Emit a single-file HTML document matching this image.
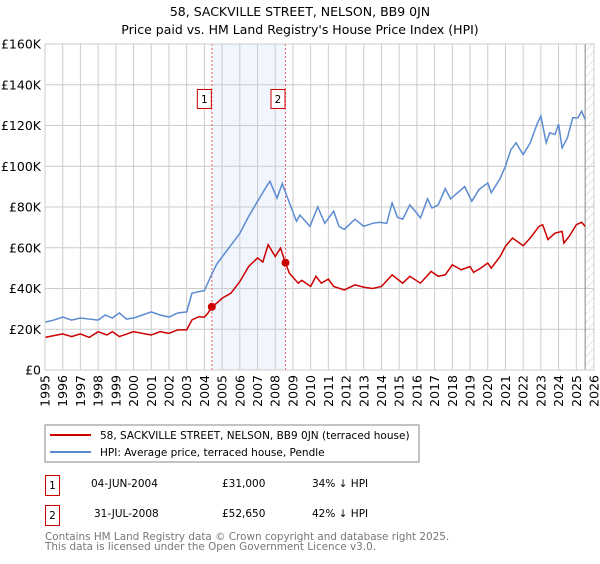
<!DOCTYPE html>
<html><head><meta charset="utf-8"><style>
body{margin:0;background:#fff;width:600px;height:560px;overflow:hidden;font-family:"DejaVu Sans","Liberation Sans",sans-serif}
svg text{font-family:"DejaVu Sans","Liberation Sans",sans-serif}
</style></head><body>
<svg id="chart" width="600" height="560">
<defs><pattern id="hatch" width="6" height="6" patternUnits="userSpaceOnUse" patternTransform="rotate(45)"><line x1="0" y1="0" x2="0" y2="6" stroke="#ccc" stroke-width="1"/></pattern></defs>
<text x="300" y="16" text-anchor="middle" font-size="12.5" fill="#000">58, SACKVILLE STREET, NELSON, BB9 0JN</text>
<text x="300" y="34" text-anchor="middle" font-size="12.5" fill="#000">Price paid vs. HM Land Registry's House Price Index (HPI)</text>
<g id="grid"></g><g id="marks"></g><g id="axes"></g>
<rect x="45" y="425" width="374" height="37" fill="#fff" stroke="#888"/>
<line x1="50" y1="435" x2="91" y2="435" stroke="#cc0000" stroke-width="2"/>
<text x="100" y="439" font-size="10.5">58, SACKVILLE STREET, NELSON, BB9 0JN (terraced house)</text>
<line x1="50" y1="452" x2="91" y2="452" stroke="#5b8bd0" stroke-width="2"/>
<text x="100" y="456" font-size="10.5">HPI: Average price, terraced house, Pendle</text>
<g>
<rect x="45.5" y="475.5" width="14" height="20" fill="#fff" stroke="#cc0000"/>
<text x="52.5" y="489" text-anchor="middle" font-size="10.5">1</text>
<text x="91" y="487" font-size="10.5">04-JUN-2004</text><text x="222" y="487" font-size="10.5">£31,000</text><text x="312" y="487" font-size="10.5">34% ↓ HPI</text></g>
<g>
<rect x="45.5" y="505.5" width="14" height="20" fill="#fff" stroke="#cc0000"/>
<text x="52.5" y="519" text-anchor="middle" font-size="10.5">2</text>
<text x="94" y="517" font-size="10.5">31-JUL-2008</text><text x="222" y="517" font-size="10.5">£52,650</text><text x="312" y="517" font-size="10.5">42% ↓ HPI</text></g>
<text x="45" y="540" font-size="10.4" fill="#777">Contains HM Land Registry data © Crown copyright and database right 2025.</text>
<text x="45" y="550" font-size="10.4" fill="#777">This data is licensed under the Open Government Licence v3.0.</text>
</svg>
<script>
const yTicks=[0,20,40,60,80,100,120,140,160];
const yTickLabels=["£0","£20K","£40K","£60K","£80K","£100K","£120K","£140K","£160K"];
const xYears=[1995,1996,1997,1998,1999,2000,2001,2002,2003,2004,2005,2006,2007,2008,2009,2010,2011,2012,2013,2014,2015,2016,2017,2018,2019,2020,2021,2022,2023,2024,2025,2026];
const hpiT=[1995,1995.5,1996,1996.5,1997,1997.5,1998,1998.4,1998.8,1999.2,1999.6,2000,2000.5,2001,2001.5,2002,2002.5,2003,2003.3,2003.7,2004,2004.4,2004.7,2005.45,2006,2006.5,2006.95,2007.5,2007.7,2008.1,2008.4,2008.8,2009.2,2009.4,2009.96,2010.4,2010.8,2011.3,2011.6,2011.9,2012.5,2013,2013.5,2013.9,2014.3,2014.6,2014.9,2015.2,2015.6,2015.9,2016.2,2016.6,2016.85,2017.2,2017.6,2017.9,2018.3,2018.7,2019.1,2019.5,2020,2020.2,2020.7,2021,2021.3,2021.6,2022,2022.4,2022.8,2023,2023.3,2023.5,2023.8,2024,2024.2,2024.5,2024.8,2025.1,2025.3,2025.5];
const hpiV=[23.5,24.5,26,24.5,25.5,25,24.5,27,25.5,28,25,25.5,27,28.5,27,26,28,28.5,37.7,38.5,39,46.7,52,60.7,67,75.4,82,90,92.6,84.4,91.5,82,73,76,70.5,80,72,78,70.5,69,74,70.5,72,72.5,72,82,75,74,81,78,74.6,84,79.5,81,89,84,87,90,82.8,88.5,91.8,87,94,100,108,111.5,105.7,111.5,121,124.6,111.5,116.4,115.6,120.6,109,114,123.8,123.8,127,123];
const priceT=[1995,1996,1996.5,1997,1997.5,1998,1998.5,1998.8,1999.2,2000,2000.5,2001,2001.5,2002,2002.5,2003,2003.3,2003.7,2004,2004.2,2004.42,2004.7,2005,2005.5,2006,2006.5,2007,2007.3,2007.6,2008,2008.3,2008.58,2008.8,2009.3,2009.5,2010,2010.3,2010.6,2011,2011.3,2011.9,2012.5,2013,2013.5,2014,2014.6,2015.2,2015.6,2016.2,2016.8,2017.2,2017.6,2018,2018.5,2019,2019.2,2019.6,2020,2020.2,2020.7,2021,2021.4,2022,2022.4,2022.9,2023.1,2023.4,2023.8,2024.2,2024.3,2024.6,2025,2025.3,2025.5];
const priceV=[16,17.7,16.4,17.7,16,18.8,17.2,18.8,16.4,18.8,18,17.2,18.8,18,19.7,19.7,24.6,26.2,25.9,27.9,31.1,32.8,35.2,37.7,43.4,50.8,55,53,61.5,55.7,59.8,52.5,47.5,42.6,44,41,46,42.6,44.6,41,39.3,41.8,40.6,40,41,46.7,42.6,46,42.6,48.4,46,46.7,51.6,49.2,50.8,47.9,50,52.5,50,55.7,60.7,64.8,61,64.8,70.5,71.3,64,67.2,68,62.3,65.6,71.3,72.5,70.5];
const saleT=[2004.42,2008.58];
const saleV=[31,52.65];
const saleLabels=["1","2"];
const shadeRange=[2004.42,2008.58];
const dataEnd=2025.5;

const NS="http://www.w3.org/2000/svg";
const L=45,R=594,T=44,B=370;
const X=t=>L+(t-1995)/(2026-1995)*(R-L);
const Y=v=>B-v/160*(B-T);
function mk(tag,attrs,parent){const e=document.createElementNS(NS,tag);for(const k in attrs)e.setAttribute(k,attrs[k]);parent.appendChild(e);return e;}
const grid=document.getElementById('grid'),marks=document.getElementById('marks'),axes=document.getElementById('axes');
const bg=mk('rect',{x:L,y:T,width:R-L,height:B-T,fill:'#fff'},grid);


const sh=mk('rect',{x:X(shadeRange[0]),y:T,width:X(shadeRange[1])-X(shadeRange[0]),height:B-T,fill:'#f1f5fd'},grid);


const ht=mk('rect',{x:X(dataEnd),y:T,width:R-X(dataEnd),height:B-T,fill:'url(#hatch)'},grid);


yTicks.forEach((v,i)=>{
 const g=mk('line',{x1:L,x2:R,y1:Y(v),y2:Y(v),stroke:'#ccc'},grid);
 
 
 const t=mk('text',{x:L-4,y:Y(v)+4.5,'text-anchor':'end','font-size':'12.5'},axes);
 t.textContent=yTickLabels[i];
 
 
});
xYears.forEach(yr=>{
 const g=mk('line',{x1:X(yr),x2:X(yr),y1:T,y2:B,stroke:'#ccc'},grid);
 
 
 const t=mk('text',{x:0,y:0,'text-anchor':'end','font-size':'12.5',transform:`translate(${X(yr)+4.5},${B+5}) rotate(-90)`},axes);
 t.textContent=yr;
 
 
});
const dl=mk('line',{x1:X(dataEnd),x2:X(dataEnd),y1:T,y2:B,stroke:'#888'},grid);


saleT.forEach((t,i)=>{
 const l=mk('line',{x1:X(t),x2:X(t),y1:T,y2:B,stroke:'#f06060','stroke-dasharray':'2,2'},marks);
 
 
 const r=mk('rect',{x:X(t)-14.5,y:89.5,width:14,height:19,fill:'#fff',stroke:'#cc0000'},marks);
 
 
 const tx=mk('text',{x:X(t)-7.5,y:103,'text-anchor':'middle','font-size':'10.5'},marks);
 tx.textContent=saleLabels[i];
 
 
});
const hp=mk('polyline',{points:hpiT.map((t,i)=>X(t)+','+Y(hpiV[i])).join(' '),fill:'none',stroke:'#5b8bd0','stroke-width':1.5},marks);


const pp=mk('polyline',{points:priceT.map((t,i)=>X(t)+','+Y(priceV[i])).join(' '),fill:'none',stroke:'#cc0000','stroke-width':1.5},marks);


saleT.forEach((t,i)=>{
 const c=mk('circle',{cx:X(t),cy:Y(saleV[i]),r:4,fill:'#cc0000'},marks);
 
 
});
const ax=mk('rect',{x:L,y:T,width:R-L,height:B-T,fill:'none',stroke:'#ccc'},axes);


</script>
</body></html>
